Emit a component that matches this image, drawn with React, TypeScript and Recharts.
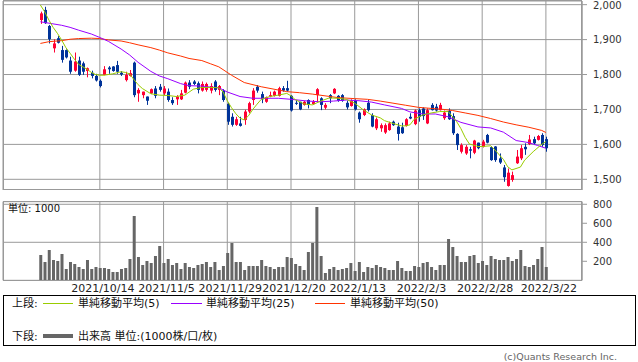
import React from 'react'
import { ComposedChart, Bar, Line, XAxis, YAxis, CartesianGrid } from 'recharts'

// daily candles, index 0 = 2021/9/24 ... 119 = 2022/3/22
const opens = [
  1956, 1985, 1939, 1875, 1904, 1870, 1870, 1840, 1811, 1840, 1832, 1810, 1805, 1796, 1782, 1799, 1820, 1823, 1827, 1805,
  1784, 1796, 1834, 1746, 1741, 1737, 1746, 1760, 1765, 1746, 1751, 1727, 1729, 1729, 1748, 1777, 1780, 1775, 1754, 1756,
  1754, 1780, 1756, 1754, 1716, 1679, 1656, 1660, 1670, 1694, 1727, 1765, 1744, 1722, 1737, 1739, 1739, 1761, 1761, 1739,
  1719, 1722, 1713, 1727, 1715, 1741, 1732, 1705, 1741, 1746, 1739, 1741, 1719, 1710, 1725, 1691, 1684, 1719, 1684, 1646,
  1646, 1634, 1641, 1665, 1651, 1649, 1653, 1679, 1658, 1698, 1703, 1660, 1713, 1708, 1698, 1675, 1696, 1681, 1630, 1579,
  1574, 1586, 1576, 1605, 1593, 1627, 1592, 1594, 1560, 1534, 1481, 1498, 1546, 1560, 1593, 1601, 1615, 1613, 1627, 1615,
]
const highs = [
  1980, 1994, 1942, 1901, 1910, 1882, 1872, 1851, 1863, 1851, 1837, 1820, 1811, 1802, 1786, 1824, 1824, 1824, 1839, 1810,
  1808, 1813, 1837, 1761, 1751, 1737, 1760, 1767, 1773, 1767, 1760, 1735, 1741, 1756, 1780, 1784, 1784, 1780, 1780, 1777,
  1775, 1784, 1770, 1758, 1719, 1689, 1679, 1679, 1699, 1722, 1761, 1770, 1751, 1737, 1751, 1754, 1765, 1767, 1782, 1741,
  1727, 1722, 1724, 1729, 1727, 1761, 1735, 1718, 1744, 1761, 1741, 1744, 1725, 1729, 1729, 1694, 1703, 1727, 1689, 1677,
  1660, 1660, 1665, 1668, 1662, 1662, 1675, 1689, 1700, 1703, 1706, 1703, 1718, 1716, 1719, 1697, 1703, 1689, 1632, 1603,
  1598, 1593, 1613, 1605, 1613, 1630, 1595, 1595, 1574, 1541, 1531, 1522, 1584, 1598, 1603, 1627, 1622, 1627, 1632, 1622,
]
const lows = [
  1945, 1945, 1889, 1863, 1889, 1834, 1846, 1802, 1808, 1796, 1799, 1792, 1789, 1780, 1763, 1798, 1802, 1808, 1802, 1796,
  1780, 1794, 1735, 1722, 1732, 1713, 1744, 1732, 1751, 1741, 1722, 1713, 1713, 1727, 1746, 1758, 1770, 1746, 1751, 1751,
  1746, 1751, 1741, 1722, 1656, 1651, 1653, 1651, 1656, 1689, 1713, 1748, 1718, 1719, 1735, 1737, 1737, 1751, 1751, 1694,
  1713, 1698, 1711, 1703, 1713, 1722, 1698, 1700, 1718, 1744, 1722, 1722, 1700, 1708, 1697, 1662, 1681, 1694, 1649, 1641,
  1636, 1630, 1639, 1653, 1611, 1630, 1651, 1672, 1655, 1665, 1670, 1658, 1697, 1694, 1697, 1670, 1670, 1627, 1584, 1574,
  1570, 1560, 1572, 1586, 1591, 1603, 1553, 1550, 1544, 1493, 1479, 1493, 1544, 1555, 1570, 1598, 1598, 1611, 1593, 1579,
]
const closes = [
  1975, 1947, 1901, 1889, 1891, 1842, 1849, 1808, 1837, 1799, 1808, 1818, 1796, 1783, 1767, 1815, 1815, 1810, 1808, 1800,
  1799, 1804, 1741, 1756, 1751, 1725, 1758, 1739, 1756, 1760, 1727, 1718, 1737, 1746, 1777, 1765, 1773, 1756, 1773, 1773,
  1767, 1756, 1767, 1727, 1665, 1656, 1672, 1653, 1694, 1718, 1754, 1754, 1729, 1735, 1741, 1751, 1761, 1754, 1754, 1697,
  1717, 1700, 1722, 1713, 1722, 1758, 1713, 1713, 1732, 1759, 1725, 1725, 1706, 1725, 1700, 1672, 1700, 1698, 1651, 1672,
  1655, 1655, 1660, 1655, 1630, 1632, 1672, 1674, 1697, 1679, 1681, 1698, 1698, 1697, 1713, 1691, 1672, 1632, 1598, 1598,
  1593, 1582, 1611, 1589, 1608, 1605, 1555, 1555, 1548, 1506, 1519, 1512, 1565, 1589, 1586, 1614, 1603, 1624, 1598, 1589,
]
// volume, thousand shares
const volumes = [
  267, 193, 319, 214, 204, 277, 119, 193, 172, 140, 119, 214, 119, 140, 130, 130, 119, 88, 88, 119,
  130, 225, 677, 246, 161, 204, 182, 256, 361, 182, 225, 161, 182, 119, 182, 140, 130, 161, 172, 193,
  140, 193, 109, 151, 288, 393, 193, 193, 109, 151, 151, 151, 214, 151, 140, 119, 140, 140, 246, 235,
  172, 151, 109, 298, 393, 772, 256, 77, 119, 140, 109, 119, 130, 182, 98, 193, 88, 140, 130, 161,
  140, 130, 109, 109, 204, 130, 98, 98, 151, 140, 182, 193, 140, 109, 161, 161, 435, 351, 256, 193,
  193, 256, 267, 182, 204, 161, 256, 225, 214, 214, 246, 204, 225, 319, 151, 140, 161, 225, 351, 140,
]
// moving averages as [index, value]
const ma5Pts: [number, number][] = [
  [0, 1999], [1, 1980], [2, 1956], [3, 1935], [4, 1918], [5, 1899], [6, 1877], [7, 1861], [8, 1844], [9, 1829],
  [10, 1822], [11, 1815], [12, 1806], [13, 1800], [14, 1798], [15, 1798], [16, 1800], [17, 1802], [18, 1805], [19, 1808],
  [20, 1806], [21, 1802], [22, 1786], [23, 1771], [24, 1760], [26, 1745], [28, 1741], [30, 1740], [32, 1737], [34, 1741],
  [36, 1758], [38, 1763], [40, 1763], [42, 1762], [43, 1750], [44, 1725], [45, 1705], [46, 1688], [47, 1675], [48, 1670],
  [49, 1682], [50, 1700], [51, 1715], [52, 1729], [54, 1737], [56, 1741], [58, 1746], [59, 1739], [60, 1728], [61, 1722],
  [62, 1716], [64, 1713], [66, 1724], [68, 1733], [70, 1732], [72, 1729], [74, 1718], [76, 1699], [78, 1684], [80, 1676],
  [81, 1668], [83, 1660], [85, 1653], [86, 1653], [87, 1656], [88, 1672], [90, 1684], [92, 1690], [94, 1694], [96, 1694],
  [98, 1665], [99, 1645], [100, 1620], [101, 1601], [103, 1594], [104, 1594], [106, 1596], [107, 1584], [109, 1557], [110, 1536],
  [111, 1527], [113, 1535], [114, 1555], [116, 1579], [118, 1600], [119, 1608],
]
const ma25Pts: [number, number][] = [
  [0, 1951], [2, 1947], [5, 1941], [7, 1935], [9, 1927], [12, 1916], [14, 1906], [16, 1895], [19, 1873], [21, 1856],
  [23, 1835], [26, 1809], [28, 1796], [30, 1788], [33, 1774], [35, 1768], [38, 1767], [40, 1764], [42, 1762], [44, 1750],
  [47, 1737], [50, 1732], [53, 1732], [56, 1732], [59, 1729], [63, 1724], [66, 1722], [69, 1724], [72, 1727], [75, 1725],
  [78, 1721], [81, 1713], [85, 1703], [87, 1693], [90, 1687], [93, 1687], [96, 1679], [99, 1663], [103, 1650], [106, 1647],
  [109, 1635], [112, 1611], [115, 1605], [117, 1597], [119, 1589],
]
const ma50Pts: [number, number][] = [
  [0, 1889], [2, 1894], [5, 1897], [7, 1901], [9, 1903], [12, 1904], [14, 1903], [16, 1899], [19, 1896], [21, 1891],
  [23, 1885], [26, 1877], [28, 1870], [30, 1862], [33, 1853], [35, 1846], [38, 1840], [40, 1831], [42, 1822], [45, 1798],
  [48, 1777], [52, 1765], [55, 1758], [58, 1751], [61, 1748], [64, 1744], [67, 1739], [70, 1734], [74, 1731], [77, 1729],
  [80, 1724], [83, 1718], [86, 1712], [89, 1706], [92, 1703], [95, 1700], [97, 1697], [100, 1690], [103, 1683], [106, 1674],
  [109, 1664], [112, 1656], [115, 1649], [118, 1640], [119, 1634],
]
const dateLabels = ['2021/10/14', '2021/11/5', '2021/11/29', '2021/12/20', '2022/1/13', '2022/2/3', '2022/2/28', '2022/3/22']
const dateIdx = [14, 29, 44, 59, 74, 89, 104, 119]
const priceTicks = [1500, 1600, 1700, 1800, 1900, 2000]
const volTicks = [200, 400, 600, 800]

const UP = '#ff0033'
const DOWN = '#003399'
const GRID = '#999999'
const FONT = '"DejaVu Sans", "Noto Sans CJK JP", sans-serif'
const X_DOMAIN: [number, number] = [-8.8, 127.5]

type Row = {
  i: number; open: number; high: number; low: number; close: number
  range: [number, number]; vol: number
  ma5: number | null; ma25: number | null; ma50: number | null
}

const rows: Row[] = opens.map((o, i) => ({
  i, open: o, high: highs[i], low: lows[i], close: closes[i],
  range: [lows[i], highs[i]], vol: volumes[i],
  ma5: null, ma25: null, ma50: null,
}))
ma5Pts.forEach(([i, v]) => { rows[i].ma5 = v })
ma25Pts.forEach(([i, v]) => { rows[i].ma25 = v })
ma50Pts.forEach(([i, v]) => { rows[i].ma50 = v })

function Candle(props: any) {
  const { x, y, width, height, payload } = props
  if (payload == null || height == null) return null
  const cx = Math.round(x + width / 2)
  const span = payload.high - payload.low || 1
  const py = (v: number) => y + ((payload.high - v) / span) * height
  const color = payload.close >= payload.open ? UP : DOWN
  const top = py(Math.max(payload.open, payload.close))
  const bot = py(Math.min(payload.open, payload.close))
  return (
    <g>
      <line x1={cx + 0.5} x2={cx + 0.5} y1={y} y2={y + height} stroke={color} strokeWidth={1} />
      <rect x={cx - 1} y={top} width={3} height={Math.max(1, bot - top)} fill={color} />
    </g>
  )
}

function DateTick(props: any) {
  const { x, y, payload } = props
  const k = dateIdx.indexOf(payload.value)
  return (
    <text x={x + 3} y={y} dy="0.71em" textAnchor="middle" fontSize={11} fontFamily={FONT} fill="#222">
      {k >= 0 ? dateLabels[k] : ''}
    </text>
  )
}

const yTick = { fontSize: 10, fill: '#333', fontFamily: FONT }
const fmt = (v: number) => v.toLocaleString('en-US')

const abs = (left: number, top: number, extra: React.CSSProperties = {}): React.CSSProperties => ({
  position: 'absolute', left, top, ...extra,
})

const legendText: React.CSSProperties = { fontSize: 11, lineHeight: '11px', fontFamily: FONT, color: '#111', whiteSpace: 'nowrap' }

export default function App() {
  return (
    <div style={{ position: 'absolute', left: 0, top: 0, width: 638, height: 362, background: '#fff', overflow: 'hidden' }}>
      {/* price panel */}
      <div style={abs(0, 0)}>
        <ComposedChart width={638} height={190} data={rows} margin={{ top: 1, right: 0, bottom: 0, left: 3 }}>
          <CartesianGrid stroke={GRID} />
          <XAxis type="number" dataKey="i" domain={X_DOMAIN} ticks={dateIdx} allowDataOverflow hide />
          <YAxis
            orientation="right" width={56} domain={[1469.4, 2010.5]} ticks={priceTicks} allowDataOverflow
            tick={yTick} tickFormatter={fmt} tickSize={5} tickMargin={6}
            stroke={GRID} tickLine={{ stroke: GRID }}
          />
          <Bar dataKey="range" barSize={3} shape={<Candle />} isAnimationActive={false} />
          <Line type="linear" dataKey="ma50" stroke="#ff3300" strokeWidth={1} dot={false} connectNulls isAnimationActive={false} />
          <Line type="linear" dataKey="ma25" stroke="#9900ff" strokeWidth={1} dot={false} connectNulls isAnimationActive={false} />
          <Line type="linear" dataKey="ma5" stroke="#99cc00" strokeWidth={1} dot={false} connectNulls isAnimationActive={false} />
        </ComposedChart>
      </div>
      <div style={abs(3, 0, { width: 579, height: 190, border: `1px solid ${GRID}`, boxSizing: 'border-box', pointerEvents: 'none' })} />

      {/* volume panel */}
      <div style={abs(0, 190)}>
        <ComposedChart width={638} height={110} data={rows} margin={{ top: 11.7, right: 0, bottom: 0, left: 3 }}>
          <CartesianGrid stroke={GRID} />
          <XAxis
            type="number" dataKey="i" domain={X_DOMAIN} ticks={dateIdx} allowDataOverflow
            height={19.7} axisLine={false} tickLine={false} tickSize={0} tickMargin={4} tick={<DateTick />}
          />
          <YAxis
            orientation="right" width={56} domain={[0, 827]} ticks={volTicks} allowDataOverflow
            tick={yTick} tickSize={5} tickMargin={6} stroke={GRID} tickLine={{ stroke: GRID }}
          />
          <Bar dataKey="vol" barSize={3} fill="#666666" isAnimationActive={false} />
        </ComposedChart>
      </div>
      <div style={abs(3, 201, { width: 579, height: 80, border: `1px solid ${GRID}`, boxSizing: 'border-box', pointerEvents: 'none' })} />
      <div style={abs(8, 204, { fontSize: 10, lineHeight: '10px', fontFamily: FONT, color: '#111' })}>単位: 1000</div>

      {/* legend */}
      <div style={abs(3, 295, { width: 633, height: 51, border: '1px solid #000', boxSizing: 'border-box' })} />
      <div style={abs(12, 298, legendText)}>上段:</div>
      <div style={abs(43, 303, { width: 30, height: 1, background: '#99cc00' })} />
      <div style={abs(78, 298, legendText)}>単純移動平均(5)</div>
      <div style={abs(171, 303, { width: 31, height: 1, background: '#9900ff' })} />
      <div style={abs(206, 298, legendText)}>単純移動平均(25)</div>
      <div style={abs(315, 303, { width: 30, height: 1, background: '#ff3300' })} />
      <div style={abs(350, 298, legendText)}>単純移動平均(50)</div>
      <div style={abs(12, 331, legendText)}>下段:</div>
      <div style={abs(43, 334, { width: 30, height: 4, background: '#666666' })} />
      <div style={abs(78, 331, legendText)}>出来高 単位:(1000株/口/枚)</div>

      <div style={abs(0, 352, { width: 617, textAlign: 'right', fontSize: 9.5, lineHeight: '10px', fontFamily: FONT, color: '#666' })}>
        (c)Quants Research Inc.
      </div>
    </div>
  )
}
